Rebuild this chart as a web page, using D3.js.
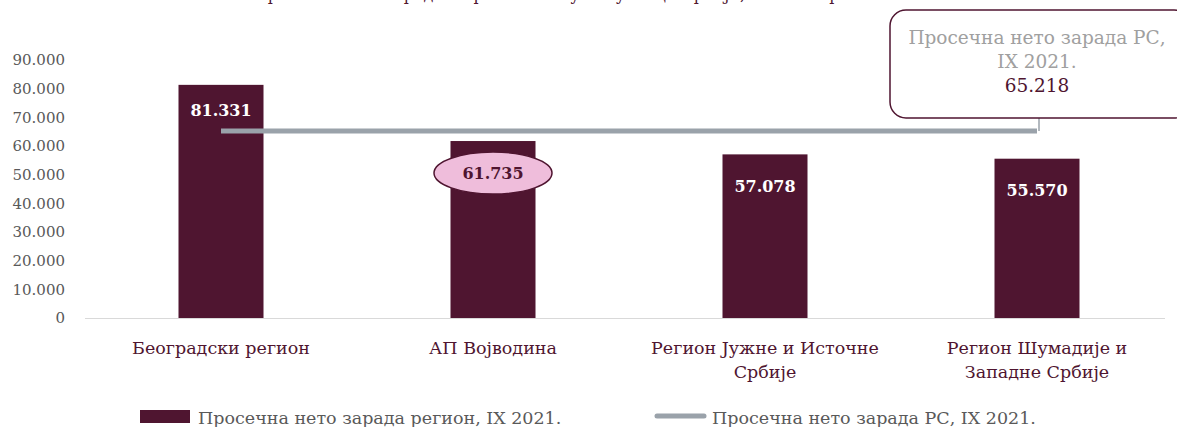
<!DOCTYPE html>
<html>
<head>
<meta charset="utf-8">
<script src="https://cdn.jsdelivr.net/npm/d3@7"></script>
<style>
  body { margin: 0; background: #fff; }
  svg { display: block; }
  svg text { font-family: "DejaVu Serif", serif; }
</style>
</head>
<body>
<div id="chart"></div>
<script>
// regions and their average net wage, IX 2021
const categories = [
  ["Београдски регион"],
  ["АП Војводина"],
  ["Регион Јужне и Источне", "Србије"],
  ["Регион Шумадије и", "Западне Србије"],
]
const regionValues = [81331, 61735, 57078, 55570]
const nationalValue = 65218
const yTicks = [0, 10000, 20000, 30000, 40000, 50000, 60000, 70000, 80000, 90000]
const seriesNames = ["Просечна нето зарада регион, IX 2021.", "Просечна нето зарада РС, IX 2021."]
const calloutLines = ["Просечна нето зарада РС,", "IX 2021."]
const titleText = "Просечна нето зарада по регионима у Републици Србији, септембар 2021."

const maroon = "#4f1530"
const grey = "#9aa2aa"
const pink = "#efbddb"

const width = 1177
const height = 427

const fmt = (v) => v.toLocaleString("de-DE")

const svg = d3.select("#chart")
  .append("svg")
  .attr("width", width)
  .attr("height", height)

const x = d3.scaleBand()
  .domain(d3.range(categories.length))
  .range([85, 1173])
  .paddingInner(0.6875)
  .paddingOuter(0.34375)

const y = d3.scaleLinear()
  .domain([0, 90000])
  .range([318, 60])

// title, cut off at the top edge as in the source
svg.append("text")
  .attr("x", 572)
  .attr("y", 0)
  .attr("text-anchor", "middle")
  .attr("fill", maroon)
  .attr("font-size", 16)
  .text(titleText)

// y axis labels
svg.append("g")
  .selectAll("text")
  .data(yTicks)
  .join("text")
  .attr("x", 65)
  .attr("y", (d) => y(d))
  .attr("dy", "0.35em")
  .attr("text-anchor", "end")
  .attr("fill", "#595959")
  .attr("font-size", 15)
  .text((d) => fmt(d))

// baseline
svg.append("line")
  .attr("x1", 85)
  .attr("x2", 1165)
  .attr("y1", y(0) + 0.5)
  .attr("y2", y(0) + 0.5)
  .attr("stroke", "#d9d9d9")
  .attr("stroke-width", 1)

// bars
svg.append("g")
  .selectAll("rect")
  .data(regionValues)
  .join("rect")
  .attr("x", (d, i) => x(i))
  .attr("y", (d) => y(d))
  .attr("width", x.bandwidth())
  .attr("height", (d) => y(0) - y(d))
  .attr("fill", maroon)

// national average line
const cx = (i) => x(i) + x.bandwidth() / 2
svg.append("line")
  .attr("x1", cx(0))
  .attr("x2", cx(categories.length - 1))
  .attr("y1", y(nationalValue))
  .attr("y2", y(nationalValue))
  .attr("stroke", grey)
  .attr("stroke-width", 5)

// pink ellipse behind the Vojvodina label
svg.append("ellipse")
  .attr("cx", cx(1))
  .attr("cy", y(regionValues[1]) + 32)
  .attr("rx", 59)
  .attr("ry", 21)
  .attr("fill", pink)
  .attr("stroke", maroon)
  .attr("stroke-width", 1.5)

// bar value labels
svg.append("g")
  .selectAll("text")
  .data(regionValues)
  .join("text")
  .attr("x", (d, i) => cx(i))
  .attr("y", (d, i) => y(d) + (i === 0 ? 26 : 32))
  .attr("dy", "0.35em")
  .attr("text-anchor", "middle")
  .attr("font-weight", "bold")
  .attr("font-size", 16)
  .attr("fill", (d, i) => (i === 1 ? maroon : "#fff"))
  .text((d) => fmt(d))

// category labels
const catG = svg.append("g")
  .selectAll("text")
  .data(categories)
  .join("text")
  .attr("text-anchor", "middle")
  .attr("fill", maroon)
  .attr("font-size", 17.5)

catG.selectAll("tspan")
  .data((d, i) => d.map((t) => ({ t, i })))
  .join("tspan")
  .attr("x", (d) => cx(d.i))
  .attr("y", (d, j) => 354 + j * 24)
  .text((d) => d.t)

// callout box for the national average
const boxX = 890
const boxY = 10
svg.append("line")
  .attr("x1", 1039)
  .attr("x2", 1039)
  .attr("y1", boxY + 108)
  .attr("y2", y(nationalValue))
  .attr("stroke", grey)
  .attr("stroke-width", 1.5)

svg.append("rect")
  .attr("x", boxX)
  .attr("y", boxY)
  .attr("width", 300)
  .attr("height", 108)
  .attr("rx", 16)
  .attr("fill", "#fff")
  .attr("stroke", maroon)
  .attr("stroke-width", 1.5)

svg.append("g")
  .selectAll("text")
  .data(calloutLines)
  .join("text")
  .attr("x", 1037)
  .attr("y", (d, i) => 44 + i * 24)
  .attr("text-anchor", "middle")
  .attr("fill", "#a0a0a0")
  .attr("font-size", 18.5)
  .text((d) => d)

svg.append("text")
  .attr("x", 1037)
  .attr("y", 92)
  .attr("text-anchor", "middle")
  .attr("fill", maroon)
  .attr("font-size", 18.5)
  .text(fmt(nationalValue))

// legend
const legend = svg.append("g")
legend.append("rect")
  .attr("x", 140)
  .attr("y", 410)
  .attr("width", 50)
  .attr("height", 13)
  .attr("fill", maroon)
legend.append("line")
  .attr("x1", 657)
  .attr("x2", 704)
  .attr("y1", 416)
  .attr("y2", 416)
  .attr("stroke", grey)
  .attr("stroke-width", 5)
  .attr("stroke-linecap", "round")
legend.selectAll("text")
  .data(seriesNames)
  .join("text")
  .attr("x", (d, i) => (i === 0 ? 198 : 712))
  .attr("y", 424)
  .attr("fill", "#595959")
  .attr("font-size", 17.5)
  .text((d) => d)
</script>
</body>
</html>
